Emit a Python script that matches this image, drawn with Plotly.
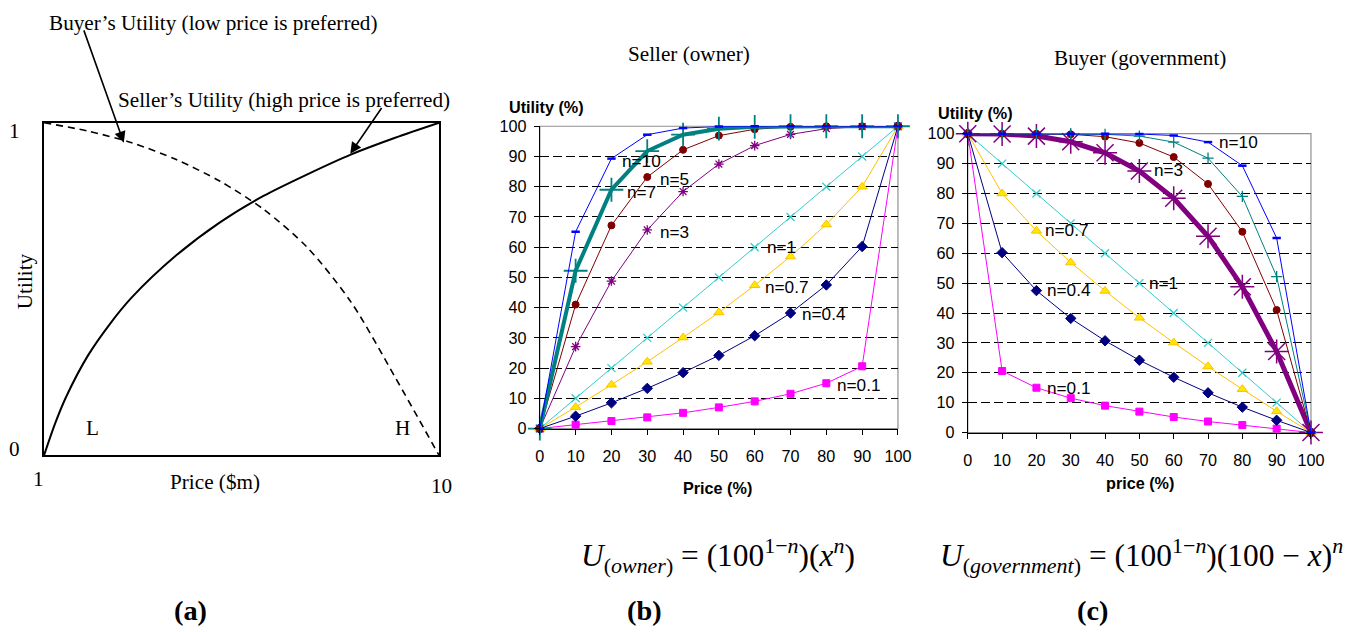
import plotly.graph_objects as go

# ---------------- data ----------------
price_pct = [0, 10, 20, 30, 40, 50, 60, 70, 80, 90, 100]
tick_vals = [0, 10, 20, 30, 40, 50, 60, 70, 80, 90, 100]
tick_text = ["0", "10", "20", "30", "40", "50", "60", "70", "80", "90", "100"]

# Seller (owner) utility curves, %
seller_n01 = [0, 1.3, 2.5, 3.7, 5.2, 7.0, 9.0, 11.5, 15.0, 20.6, 100]
seller_n04 = [0, 4.1, 8.5, 13.3, 18.5, 24.2, 30.7, 38.2, 47.5, 60.2, 100]
seller_n07 = [0, 7.1, 14.5, 22.1, 30.1, 38.4, 47.4, 56.9, 67.5, 80.0, 100]
seller_n1 = [0, 10, 20, 30, 40, 50, 60, 70, 80, 90, 100]
seller_n3 = [0, 27.1, 48.8, 65.7, 78.4, 87.5, 93.6, 97.3, 99.2, 99.9, 100]
seller_n5 = [0, 41.0, 67.2, 83.2, 92.2, 96.9, 99.0, 99.8, 100, 100, 100]
seller_n7 = [0, 52.2, 79.0, 91.8, 97.2, 99.2, 99.8, 100, 100, 100, 100]
seller_n10 = [0, 65.1, 89.3, 97.2, 99.4, 99.9, 100, 100, 100, 100, 100]

# Buyer (government) utility curves, %
buyer_n01 = [100, 20.6, 15.0, 11.5, 9.0, 7.0, 5.2, 3.7, 2.5, 1.3, 0]
buyer_n04 = [100, 60.2, 47.5, 38.2, 30.7, 24.2, 18.5, 13.3, 8.5, 4.1, 0]
buyer_n07 = [100, 80.0, 67.5, 56.9, 47.4, 38.4, 30.1, 22.1, 14.5, 7.1, 0]
buyer_n1 = [100, 90, 80, 70, 60, 50, 40, 30, 20, 10, 0]
buyer_n3 = [100, 99.9, 99.2, 97.3, 93.6, 87.5, 78.4, 65.7, 48.8, 27.1, 0]
buyer_n5 = [100, 100, 100, 99.8, 99.0, 96.9, 92.2, 83.2, 67.2, 41.0, 0]
buyer_n7 = [100, 100, 100, 100, 99.8, 99.2, 97.2, 91.8, 79.0, 52.2, 0]
buyer_n10 = [100, 100, 100, 100, 100, 99.9, 99.4, 97.2, 89.3, 65.1, 0]

# Schematic curves for panel (a): price in $m, utility 0..1
sketch_seller_x = [1, 1.25, 1.5, 2, 2.5, 3, 4, 5, 6, 7, 8, 9, 10]
sketch_seller_y = [0, 0.095, 0.175, 0.30, 0.395, 0.475, 0.60, 0.70, 0.78,
                   0.845, 0.905, 0.955, 1.0]
sketch_buyer_x = [1, 2, 3, 4, 5, 6, 7, 8, 9, 10]
sketch_buyer_y = [1, 0.975, 0.94, 0.89, 0.825, 0.74, 0.625, 0.46, 0.235, 0]

# ---------------- layout helpers ----------------
W, H = 1353, 632
# the page keeps its default 8px body margin; positions below are given in
# on-screen pixels of the framed page and mapped back to figure fractions
OFF = 8
XADJ = 4
SX = W / (W + 2 * OFF)
SY = H / (H + 2 * OFF)
SANS = "Liberation Sans, Arial, sans-serif"
SERIF = "Liberation Serif, Times New Roman, serif"


def px(x):
    return ((x + XADJ) / SX - OFF) / W


def py(y):
    return 1 - (y / SY - OFF) / H


def fs(size):
    return round(size / SX, 1)


BLUE = "#0000FF"
TEAL = "#008080"
DRED = "#800000"
PURPLE = "#800080"
TURQ = "#33CCCC"
GOLD = "#FFC000"
YELLOW = "#FFE800"
NAVY = "#000080"
MAGENTA = "#FF00FF"

fig = go.Figure()


def add_series(xa, ya, x, y, color, symbol, msize, lwidth=1.0,
               mline=1.0, fill=None):
    marker = dict(symbol=symbol, size=msize, color=fill or color,
                  line=dict(color=color, width=mline))
    fig.add_trace(go.Scatter(
        x=x, y=y, mode="lines+markers", xaxis=xa, yaxis=ya,
        line=dict(color=color, width=lwidth), marker=marker,
        cliponaxis=False, showlegend=False, hoverinfo="skip"))


# ---- panel (a): schematic ----
fig.add_trace(go.Scatter(
    x=sketch_seller_x, y=sketch_seller_y, mode="lines", xaxis="x", yaxis="y",
    line=dict(color="black", width=2, shape="spline", smoothing=0.8),
    cliponaxis=False, showlegend=False, hoverinfo="skip"))
fig.add_trace(go.Scatter(
    x=sketch_buyer_x, y=sketch_buyer_y, mode="lines", xaxis="x", yaxis="y",
    line=dict(color="black", width=1.6, dash="7px,5px", shape="spline",
              smoothing=0.8),
    cliponaxis=False, showlegend=False, hoverinfo="skip"))

# ---- panel (b): seller ----
add_series("x2", "y2", price_pct, seller_n01, MAGENTA, "square", 7)
add_series("x2", "y2", price_pct, seller_n04, NAVY, "diamond", 8)
add_series("x2", "y2", price_pct, seller_n07, GOLD, "triangle-up", 9,
           fill=YELLOW)
add_series("x2", "y2", price_pct, seller_n1, TURQ, "x-thin", 8, mline=1.3)
add_series("x2", "y2", price_pct, seller_n3, PURPLE, "asterisk", 8, mline=1.3)
add_series("x2", "y2", price_pct, seller_n5, DRED, "circle", 7)
add_series("x2", "y2", price_pct, seller_n7, TEAL, "cross-thin", 17,
           lwidth=4, mline=1.8)
add_series("x2", "y2", price_pct, seller_n10, BLUE, "line-ew", 6, mline=2.5)

# ---- panel (c): buyer ----
add_series("x3", "y3", price_pct, buyer_n01, MAGENTA, "square", 7)
add_series("x3", "y3", price_pct, buyer_n04, NAVY, "diamond", 8)
add_series("x3", "y3", price_pct, buyer_n07, GOLD, "triangle-up", 9,
           fill=YELLOW)
add_series("x3", "y3", price_pct, buyer_n1, TURQ, "x-thin", 8, mline=1.3)
add_series("x3", "y3", price_pct, buyer_n3, PURPLE, "asterisk", 20,
           lwidth=5, mline=1.5)
add_series("x3", "y3", price_pct, buyer_n5, DRED, "circle", 7)
add_series("x3", "y3", price_pct, buyer_n7, TEAL, "cross-thin", 8, mline=1.3)
add_series("x3", "y3", price_pct, buyer_n10, BLUE, "line-ew", 6, mline=2.5)

# ---------------- axes ----------------
box_a = dict(x0=43, x1=439, y0=122, y1=456)
box_b = dict(x0=540, x1=899, y0=125.5, y1=429)
box_c = dict(x0=969, x1=1313, y0=133, y1=433)


def xdom(b):
    return [px(b["x0"]), px(b["x1"])]


def ydom(b):
    return [py(b["y1"]), py(b["y0"])]


chart_x = dict(range=[0, 100], tickmode="array", tickvals=tick_vals,
               ticktext=tick_text, showgrid=False, zeroline=False,
               showline=True, linecolor="black", linewidth=1.2,
               ticks="outside", ticklen=5, tickcolor="black",
               tickfont=dict(family=SANS, size=fs(16), color="black"),
               ticklabelstandoff=8, fixedrange=True)
chart_y = dict(range=[0, 100], tickmode="array", tickvals=tick_vals,
               ticktext=tick_text, showgrid=True, gridcolor="black",
               gridwidth=1, griddash="9px,4px", zeroline=False,
               showline=True, linecolor="black", linewidth=1.2,
               ticks="outside", ticklen=5, tickcolor="black",
               tickfont=dict(family=SANS, size=fs(16), color="black"),
               ticklabelstandoff=4, fixedrange=True)

fig.update_layout(
    width=W, height=H, margin=dict(l=0, r=0, t=0, b=0),
    paper_bgcolor="white", plot_bgcolor="white",
    xaxis=dict(domain=xdom(box_a), range=[1, 10], showgrid=False,
               zeroline=False, showticklabels=False, ticks="",
               showline=True, mirror=True, linecolor="black", linewidth=2,
               fixedrange=True),
    yaxis=dict(domain=ydom(box_a), range=[0, 1], showgrid=False,
               zeroline=False, showticklabels=False, ticks="",
               showline=True, mirror=True, linecolor="black", linewidth=2,
               fixedrange=True),
    xaxis2=dict(domain=xdom(box_b), anchor="y2", **chart_x),
    yaxis2=dict(domain=ydom(box_b), anchor="x2", **chart_y),
    xaxis3=dict(domain=xdom(box_c), anchor="y3", **chart_x),
    yaxis3=dict(domain=ydom(box_c), anchor="x3", **chart_y),
)

# grey plot-area frame for the two charts
for xr, yr in (("x2 domain", "y2 domain"), ("x3 domain", "y3 domain")):
    fig.add_shape(type="rect", xref=xr, yref=yr, x0=0, x1=1, y0=0, y1=1,
                  line=dict(color="#909090", width=1.2), layer="below")

# ---------------- text ----------------
ann = []


def text(x, y, s, size=15, family=SANS, xanchor="center", color="black",
         angle=0, xref="paper", yref="paper"):
    ann.append(dict(x=x, y=y, xref=xref, yref=yref, text=s, showarrow=False,
                    xanchor=xanchor, yanchor="middle", textangle=angle,
                    borderpad=0,
                    font=dict(family=family, size=fs(size), color=color)))


# panel (a)
text(px(47), py(22), "Buyer\u2019s Utility (low price is preferred)",
     size=21, family=SERIF, xanchor="left")
text(px(116), py(99), "Seller\u2019s Utility (high price is preferred)",
     size=21, family=SERIF, xanchor="left")
text(px(13), py(130), "1", size=21, family=SERIF)
text(px(13), py(450), "0", size=21, family=SERIF)
text(px(37), py(480), "1", size=21, family=SERIF)
text(px(441), py(487), "10", size=21, family=SERIF)
text(px(214), py(483), "Price ($m)", size=21, family=SERIF)
text(px(24), py(281), "Utility", size=21, family=SERIF, angle=-90)
text(px(92), py(428), "L", size=21, family=SERIF)
text(px(402), py(428), "H", size=21, family=SERIF)

for head, tail in (((123, 142), (83, 31)), ((350, 153), (382, 107))):
    hx, hy = px(head[0]), py(head[1])
    tx, ty = px(tail[0]), py(tail[1])
    ann.append(dict(x=hx, y=hy, xref="paper", yref="paper",
                    ax=(tx - hx) * W, ay=-(ty - hy) * H, text="",
                    showarrow=True, arrowhead=2, arrowsize=1.4,
                    arrowwidth=1.6, arrowcolor="black", standoff=0))

# panel titles and axis titles
text(px(690), py(53), "Seller (owner)", size=21, family=SERIF)
text(px(1142), py(57), "Buyer (government)", size=21, family=SERIF)
text(px(508), py(106), "<b>Utility (%)</b>", size=16, xanchor="left")
text(px(938), py(112), "<b>Utility (%)</b>", size=16, xanchor="left")
text(px(718), py(489), "<b>Price (%)</b>", size=16)
text(px(1142), py(484), "<b>price (%)</b>", size=16)

# curve labels, panel (b)
for lx, ly, s in ((28.4, 88.5, "n=10"), (37.6, 82.6, "n=5"),
                  (28.4, 78.3, "n=7"), (37.6, 65.1, "n=3"),
                  (67.4, 59.9, "n=1"), (69.1, 46.8, "n=0.7"),
                  (79.4, 37.8, "n=0.4"), (89.1, 14.5, "n=0.1")):
    text(lx, ly, s, size=17, xref="x2", yref="y2")

# curve labels, panel (c)
for lx, ly, s in ((78.8, 97.3, "n=10"), (58.4, 87.7, "n=3"),
                  (28.8, 67.7, "n=0.7"), (57.0, 50.0, "n=1"),
                  (29.4, 47.7, "n=0.4"), (29.4, 15.0, "n=0.1")):
    text(lx, ly, s, size=17, xref="x3", yref="y3")

# formulas
text(px(580), py(556),
     "<i>U</i><sub>(<i>owner</i>)</sub> = (100<sup>1\u2212<i>n</i></sup>)"
     "(<i>x</i><sup><i>n</i></sup>)",
     size=31, family=SERIF, xanchor="left")
text(px(940), py(556),
     "<i>U</i><sub>(<i>government</i>)</sub> = (100<sup>1\u2212<i>n</i></sup>)"
     "(100 \u2212 <i>x</i>)<sup><i>n</i></sup>",
     size=31, family=SERIF, xanchor="left")

# panel letters
text(px(190), py(612), "<b>(a)</b>", size=28, family=SERIF)
text(px(645), py(612), "<b>(b)</b>", size=28, family=SERIF)
text(px(1094), py(612), "<b>(c)</b>", size=28, family=SERIF)

fig.update_layout(annotations=ann)

fig.write_html("out.html")
